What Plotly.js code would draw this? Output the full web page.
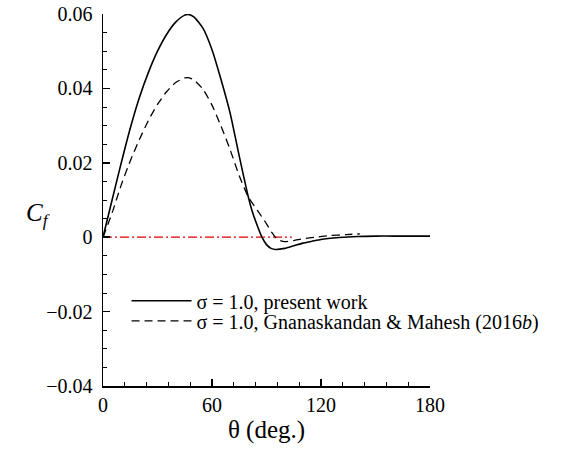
<!DOCTYPE html>
<html>
<head>
<meta charset="utf-8">
<script src="https://cdn.plot.ly/plotly-3.0.1.min.js"></script>
<style>
  html, body { margin: 0; padding: 0; background: #fff; }
  #chart { width: 564px; height: 453px; }
</style>
</head>
<body>
<div id="chart"></div>
<script>
// Present work, sigma = 1.0
var thetaPresent = [0, 5, 10, 15, 20, 25, 30, 35, 40, 45, 47, 50, 55, 60, 65, 70, 75, 80, 82, 85, 87.5, 90, 92.5, 95, 100, 105, 110, 115, 120, 130, 140, 150, 160, 170, 180];
var cfPresent    = [0, 0.0100, 0.0199, 0.0293, 0.0375, 0.0443, 0.0500, 0.0545, 0.0578, 0.0597, 0.0599, 0.0592, 0.0562, 0.0504, 0.0423, 0.0333, 0.0218, 0.0108, 0.0072, 0.0030, 0.0000, -0.0020, -0.0030, -0.0033, -0.0030, -0.0023, -0.0016, -0.0011, -0.0006, -0.0001, 0.0002, 0.0003, 0.0003, 0.0003, 0.0003];

// Gnanaskandan & Mahesh (2016b), sigma = 1.0
var thetaGM = [0, 5, 10, 15, 20, 25, 30, 35, 40, 45, 47, 50, 55, 60, 65, 70, 75, 80, 85, 90, 93, 96, 100, 105, 110, 117, 124, 134, 141.4];
var cfGM    = [0, 0.0065, 0.0140, 0.0205, 0.0262, 0.0314, 0.0357, 0.0391, 0.0416, 0.0428, 0.0429, 0.0423, 0.0398, 0.0355, 0.0298, 0.0235, 0.0165, 0.0108, 0.0072, 0.0036, 0.0012, -0.0006, -0.0012, -0.0009, -0.0004, 0.0000, 0.0004, 0.0007, 0.0009];

// Reference zero line
var thetaZero = [0, 104];
var cfZero = [0, 0];

var xTickVals = [0, 60, 120, 180];
var xTickText = ['0', '60', '120', '180'];
var yTickVals = [-0.04, -0.02, 0, 0.02, 0.04, 0.06];
var yTickText = ['\u22120.04\u00a0', '\u22120.02\u00a0', '0\u00a0', '0.02\u00a0', '0.04\u00a0', '0.06\u00a0'];

var legendPresent = '\u03c3 = 1.0, present work';
var legendGM = '\u03c3 = 1.0, Gnanaskandan &amp; Mahesh (2016<i>b</i>)';

var serif = 'Liberation Serif';

var traces = [
  {
    x: thetaZero, y: cfZero, type: 'scatter', mode: 'lines',
    line: { color: '#e00000', width: 1.2, dash: '9px,3px,2px,3px' },
    showlegend: false, hoverinfo: 'skip'
  },
  {
    x: thetaPresent, y: cfPresent, type: 'scatter', mode: 'lines',
    name: legendPresent, legend: 'legend',
    line: { color: '#000', width: 1.6, shape: 'spline', smoothing: 0.6 }
  },
  {
    x: thetaGM, y: cfGM, type: 'scatter', mode: 'lines',
    name: legendGM, legend: 'legend2',
    line: { color: '#000', width: 1.3, dash: '8px,5px', shape: 'spline', smoothing: 0.6 }
  }
];

var legendCommon = {
  xanchor: 'left', yanchor: 'middle',
  bgcolor: 'rgba(0,0,0,0)', borderwidth: 0,
  font: { family: serif, size: 20, color: '#000' },
  itemwidth: 60
};

var layout = {
  width: 564, height: 453,
  margin: { l: 103, r: 134, t: 14, b: 67, pad: 0, autoexpand: false },
  paper_bgcolor: '#fff', plot_bgcolor: '#fff',
  font: { family: serif, color: '#000', size: 20 },
  showlegend: true,
  legend: Object.assign({ x: 0.072, y: 0.229 }, legendCommon),
  legend2: Object.assign({ x: 0.072, y: 0.175 }, legendCommon),
  xaxis: {
    range: [0, 180], tickvals: xTickVals, ticktext: xTickText,
    ticks: 'inside', ticklen: 7, tickwidth: 1.5, tickcolor: '#000',
    minor: { dtick: 12, tick0: 0, ticks: 'inside', ticklen: 4, tickwidth: 1, tickcolor: '#000' },
    showline: true, linecolor: '#000', linewidth: 1.5, mirror: false,
    showgrid: false, zeroline: false, automargin: false,
    tickfont: { family: serif, size: 20, color: '#000' },
    title: { text: '\u03b8 (deg.)', font: { family: serif, size: 25, color: '#000' }, standoff: 6 }
  },
  yaxis: {
    range: [-0.04, 0.06], tickvals: yTickVals, ticktext: yTickText,
    ticks: 'inside', ticklen: 7, tickwidth: 1.5, tickcolor: '#000',
    minor: { dtick: 0.005, tick0: 0, ticks: 'inside', ticklen: 4, tickwidth: 1, tickcolor: '#000' },
    showline: true, linecolor: '#000', linewidth: 1.5, mirror: false,
    showgrid: false, zeroline: false, automargin: false,
    tickfont: { family: serif, size: 20, color: '#000' }
  },
  annotations: [
    {
      text: '<i>C</i><sub><i>f</i></sub>', xref: 'paper', yref: 'paper',
      x: -0.2, y: 0.46, xanchor: 'center', yanchor: 'middle', showarrow: false,
      font: { family: serif, size: 25, color: '#000' }
    }
  ]
};

Plotly.newPlot('chart', traces, layout, { staticPlot: true, displayModeBar: false });
</script>
</body>
</html>
